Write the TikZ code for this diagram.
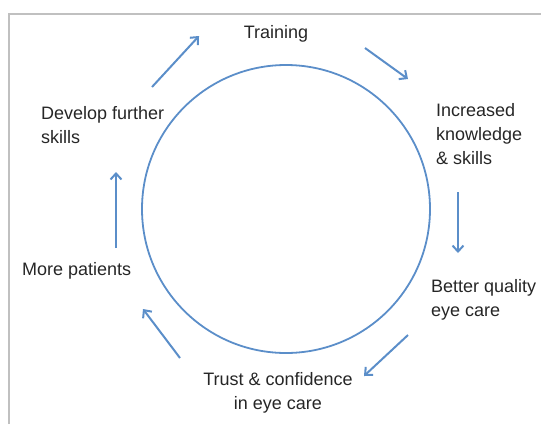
\documentclass[tikz,border=0pt]{standalone}
\usepackage{fontspec}
\setmainfont{Liberation Sans}
\usetikzlibrary{arrows.meta}
\definecolor{cycblue}{HTML}{5B8EC9}
\definecolor{framegrey}{HTML}{C0C0C0}
\tikzset{
  lbl/.style={inner sep=0pt, font=\fontsize{18}{24}\selectfont, text=black!85},
  flow/.style={draw=cycblue, line width=2pt, -{Straight Barb[length=6pt,width=11pt,line width=2pt]}},
}
\begin{document}
\begin{tikzpicture}[x=1pt,y=-1pt]
\useasboundingbox (0,0) rectangle (541,424);
\draw[framegrey, line width=1.6pt] (9,424) -- (9,14) -- (541,14);
\draw[cycblue, line width=1.8pt] (286,209) circle (144);
\node[lbl] (training) at (276,34) {Training};
\node[lbl, anchor=west, align=left] (know) at (436,134) {Increased\\knowledge\\\& skills};
\node[lbl, anchor=west, align=left] (better) at (431,300) {Better quality\\eye care};
\node[lbl, align=center] (trust) at (278,393) {Trust \& confidence\\in eye care};
\node[lbl, anchor=west] (more) at (22,271) {More patients};
\node[lbl, anchor=west, align=left] (develop) at (41,125) {Develop further\\skills};
\coordinate (a1s) at (152,87);  \coordinate (a1e) at (199,36);
\coordinate (a2s) at (365,48);  \coordinate (a2e) at (408,79);
\coordinate (a3s) at (458,192); \coordinate (a3e) at (458,253);
\coordinate (a4s) at (408,335); \coordinate (a4e) at (364,376);
\coordinate (a5s) at (180,358); \coordinate (a5e) at (143,309);
\coordinate (a6s) at (116,248); \coordinate (a6e) at (116,172);
\draw[flow] (a1s) -- (a1e);
\draw[flow] (a2s) -- (a2e);
\draw[flow] (a3s) -- (a3e);
\draw[flow] (a4s) -- (a4e);
\draw[flow] (a5s) -- (a5e);
\draw[flow] (a6s) -- (a6e);
\end{tikzpicture}
\end{document}
